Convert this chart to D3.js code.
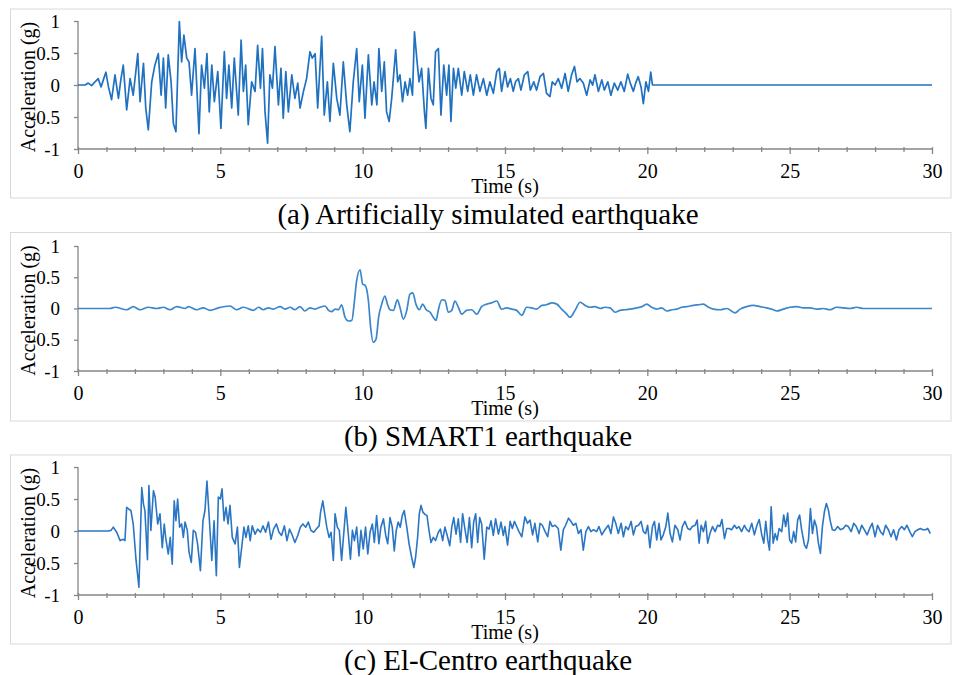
<!DOCTYPE html>
<html>
<head>
<meta charset="utf-8">
<script src="https://cdn.jsdelivr.net/npm/d3@7"></script>
<style>
  body { margin: 0; background: #fff; }
  text { font-family: "Liberation Serif", "Times New Roman", serif; fill: #000; }
</style>
</head>
<body>
<svg width="955" height="675"></svg>
<script>
// [time (s), acceleration (g)]
const simData = [[0,0],[0.25,0],[0.36,0.03],[0.48,-0.01],[0.60,0.05],[0.71,0.10],[0.81,-0.03],[0.89,0.08],[0.98,0.20],[1.07,-0.03],[1.18,-0.23],[1.30,0.16],[1.42,-0.21],[1.51,0.10],[1.59,0.31],[1.71,-0.39],[1.83,0.10],[1.94,-0.16],[2.10,0.49],[2.18,-0.26],[2.30,0.34],[2.38,-0.36],[2.47,-0.70],[2.59,0.05],[2.70,0.31],[2.82,0.49],[2.92,-0.16],[3.00,0.42],[3.08,-0.36],[3.17,0.47],[3.27,0.05],[3.35,-0.60],[3.44,-0.73],[3.56,0.99],[3.64,0.36],[3.72,0.78],[3.82,0.42],[3.90,0.36],[3.99,-0.16],[4.11,0.57],[4.25,-0.76],[4.34,0.31],[4.44,-0.05],[4.53,0.49],[4.61,-0.42],[4.70,0.31],[4.79,-0.26],[4.91,0.21],[5.02,-0.68],[5.14,0.52],[5.22,-0.21],[5.30,0.31],[5.40,-0.36],[5.49,0.42],[5.63,-0.47],[5.73,0.70],[5.81,-0.10],[5.89,0.31],[5.98,-0.62],[6.10,0.05],[6.22,-0.10],[6.31,0.62],[6.41,-0.05],[6.48,0.57],[6.57,-0.42],[6.66,-0.91],[6.74,0.16],[6.83,-0.05],[6.92,0.60],[7.04,-0.31],[7.13,0.26],[7.21,-0.52],[7.30,0.21],[7.39,-0.42],[7.51,0.16],[7.62,-0.21],[7.72,0.03],[7.80,-0.36],[7.92,-0.10],[8.03,0.10],[8.15,0.52],[8.23,0.42],[8.33,0.49],[8.42,-0.36],[8.56,0.76],[8.65,-0.47],[8.76,0.05],[8.85,-0.57],[8.97,0.34],[9.09,-0.21],[9.20,-0.47],[9.32,0.36],[9.44,-0.31],[9.55,-0.73],[9.67,0.05],[9.79,0.57],[9.88,-0.26],[9.99,0.31],[10.08,-0.52],[10.20,0.47],[10.32,-0.31],[10.40,0.05],[10.50,-0.31],[10.57,0.57],[10.67,-0.10],[10.76,0.36],[10.84,-0.42],[10.93,-0.57],[11.02,-0.21],[11.16,0.55],[11.23,0.05],[11.31,0.16],[11.40,-0.26],[11.49,0.05],[11.58,-0.16],[11.66,0.10],[11.75,-0.16],[11.82,0.83],[11.90,0.42],[11.98,0.05],[12.07,0.26],[12.17,-0.42],[12.22,-0.68],[12.31,0.26],[12.40,-0.21],[12.48,-0.31],[12.56,0.52],[12.66,0.57],[12.75,-0.47],[12.85,0.31],[12.95,-0.16],[13.03,0.31],[13.10,-0.57],[13.19,0.26],[13.27,-0.05],[13.36,0.26],[13.48,-0.16],[13.57,0.21],[13.69,-0.10],[13.78,0.16],[13.89,-0.16],[14.00,0.16],[14.12,-0.10],[14.24,0.10],[14.36,-0.16],[14.47,0.05],[14.59,-0.13],[14.71,0.21],[14.80,0.26],[14.88,-0.10],[15.00,0.21],[15.09,-0.03],[15.19,0.10],[15.29,-0.10],[15.37,0.05],[15.47,0.10],[15.56,-0.08],[15.68,0.16],[15.80,0.21],[15.89,-0.08],[16.01,0.05],[16.11,-0.08],[16.23,0.13],[16.35,0.18],[16.46,-0.13],[16.58,-0.18],[16.66,0.05],[16.76,0],[16.87,0.10],[16.99,-0.05],[17.11,0.18],[17.22,-0.10],[17.34,0.16],[17.44,0.29],[17.53,0.05],[17.63,0.10],[17.75,0.03],[17.87,-0.16],[17.99,0.08],[18.08,0],[18.16,0.16],[18.28,-0.10],[18.40,0.08],[18.49,-0.08],[18.61,0.05],[18.72,-0.16],[18.84,0.03],[18.96,-0.08],[19.07,0.05],[19.19,-0.10],[19.31,0.17],[19.40,0.03],[19.51,-0.10],[19.59,0.03],[19.68,0.13],[19.78,-0.03],[19.86,-0.29],[19.95,0.05],[20.04,-0.10],[20.12,0.20],[20.18,0],[30,0]];

const smartData = [[0,0],[1.12,0],[1.30,0.02],[1.71,-0.02],[1.94,0.03],[2.18,-0.02],[2.47,0.02],[2.76,0],[3.00,0.02],[3.23,-0.02],[3.47,0.03],[3.76,0],[3.88,0.03],[4.17,-0.02],[4.40,0.01],[4.64,-0.03],[4.93,0.01],[5.34,0.04],[5.57,-0.02],[5.81,0.02],[6.16,-0.03],[6.34,0.02],[6.51,-0.02],[6.69,0.01],[6.86,-0.01],[7.10,0.03],[7.27,-0.01],[7.45,0.02],[7.62,-0.02],[7.80,0.03],[7.97,-0.04],[8.15,0.01],[8.33,-0.01],[8.50,0.02],[8.68,0.04],[8.80,-0.03],[8.91,-0.05],[9.03,-0.01],[9.15,-0.02],[9.26,0.06],[9.38,-0.14],[9.50,-0.20],[9.62,-0.19],[9.70,0.07],[9.79,0.45],[9.91,0.62],[10.00,0.39],[10.09,0.37],[10.20,0.13],[10.28,-0.30],[10.37,-0.54],[10.47,-0.49],[10.56,-0.14],[10.67,0.07],[10.78,0.20],[10.87,0.07],[10.96,-0.02],[11.08,-0.03],[11.22,0.14],[11.31,0.02],[11.43,-0.17],[11.55,-0.03],[11.66,0.23],[11.76,0.25],[11.87,0.07],[11.99,-0.02],[12.11,0.07],[12.23,-0.02],[12.37,-0.06],[12.48,-0.14],[12.58,-0.19],[12.66,-0.02],[12.78,0.14],[12.89,0.13],[13.01,-0.06],[13.13,-0.03],[13.24,0.12],[13.36,0.02],[13.48,-0.09],[13.65,-0.03],[13.83,-0.02],[14.01,-0.09],[14.18,0.03],[14.36,0.07],[14.53,0.09],[14.71,0.12],[14.88,-0.01],[15.06,0.01],[15.24,-0.01],[15.41,-0.03],[15.59,-0.11],[15.76,0.02],[15.94,0.01],[16.11,-0.01],[16.29,0.05],[16.46,0.06],[16.64,0.09],[16.82,0.07],[16.99,-0.01],[17.17,-0.09],[17.28,-0.14],[17.46,-0.03],[17.64,0.10],[17.81,0.05],[17.99,0.02],[18.16,0.03],[18.34,0],[18.51,0.02],[18.69,0.01],[18.87,-0.06],[19.04,-0.03],[19.22,-0.02],[19.39,-0.01],[19.63,0.01],[19.81,0.03],[19.98,0.07],[20.15,0.02],[20.33,-0.01],[20.50,0.01],[20.68,-0.04],[20.86,-0.02],[21.03,-0.01],[21.21,0.02],[21.38,0.03],[21.62,0.05],[21.79,0.06],[21.97,0.07],[22.15,0.02],[22.32,-0.01],[22.56,-0.02],[22.79,0],[23.08,-0.07],[23.26,-0.01],[23.49,0.03],[23.72,0.05],[23.96,0.03],[24.19,0.01],[24.43,-0.02],[24.54,-0.04],[24.78,-0.01],[25.01,0.02],[25.25,0.03],[25.48,0.01],[25.72,0.01],[25.95,-0.01],[26.18,0],[26.42,-0.02],[26.65,0.02],[26.89,0.01],[27.12,0],[27.35,0.02],[27.59,0],[27.82,0],[30,0]];

const elcData = [[0,0],[1.07,0],[1.16,0.01],[1.24,0.06],[1.36,-0.02],[1.48,-0.15],[1.59,-0.13],[1.65,-0.15],[1.71,0.37],[1.79,0.34],[1.86,0.32],[1.94,0.11],[2.04,-0.46],[2.14,-0.88],[2.24,0.68],[2.30,0.42],[2.35,0.32],[2.44,-0.45],[2.49,0.71],[2.56,0.01],[2.65,0.63],[2.71,0.53],[2.80,0.11],[2.88,0.27],[2.96,-0.26],[3.03,0.11],[3.08,-0.10],[3.17,-0.36],[3.24,-0.10],[3.31,-0.52],[3.38,0.47],[3.44,0.16],[3.50,0.50],[3.57,0.06],[3.64,0.11],[3.70,-0.10],[3.76,0.14],[3.84,0.01],[3.90,-0.33],[3.98,-0.49],[4.05,0.01],[4.13,-0.02],[4.20,-0.20],[4.30,-0.62],[4.39,0.16],[4.46,0.32],[4.53,0.78],[4.61,0.21],[4.70,-0.46],[4.78,0.16],[4.86,-0.70],[4.93,0.53],[5.00,0.50],[5.06,0.66],[5.13,0.16],[5.20,0.37],[5.27,0.11],[5.34,0.40],[5.42,-0.10],[5.52,-0.20],[5.60,0.06],[5.67,-0.57],[5.75,-0.26],[5.83,0.06],[5.90,-0.10],[5.98,0.08],[6.05,-0.15],[6.12,0.08],[6.22,-0.05],[6.31,0.03],[6.41,-0.02],[6.50,0.08],[6.59,-0.02],[6.69,0.14],[6.78,-0.13],[6.87,0.03],[6.97,0.11],[7.06,-0.02],[7.15,-0.07],[7.25,0.08],[7.34,-0.15],[7.43,0.03],[7.53,-0.07],[7.62,-0.18],[7.72,-0.07],[7.81,0.06],[7.90,0.11],[8.00,0.06],[8.09,0.14],[8.18,0.01],[8.28,-0.02],[8.37,0.03],[8.47,0.08],[8.52,0.29],[8.60,0.47],[8.65,0.32],[8.74,0.06],[8.82,-0.10],[8.89,-0.02],[8.97,-0.46],[9.03,0.27],[9.11,0.06],[9.18,0.01],[9.26,-0.46],[9.33,-0.07],[9.41,0.37],[9.50,-0.07],[9.57,-0.44],[9.64,0.01],[9.71,-0.15],[9.79,0.06],[9.87,-0.39],[9.94,0.01],[10.02,-0.28],[10.10,0.06],[10.18,-0.36],[10.26,-0.02],[10.34,0.11],[10.41,-0.18],[10.49,0.24],[10.57,-0.20],[10.64,0.06],[10.73,0.19],[10.81,-0.07],[10.88,-0.20],[10.96,0.21],[11.04,0.06],[11.11,-0.31],[11.18,0.01],[11.25,0.14],[11.32,0.06],[11.39,0.24],[11.46,0.32],[11.55,0.06],[11.63,-0.20],[11.72,-0.41],[11.80,-0.57],[11.86,-0.41],[11.93,-0.10],[11.99,0.27],[12.05,0.40],[12.12,0.29],[12.19,0.26],[12.26,0.24],[12.33,0.01],[12.40,-0.18],[12.48,-0.10],[12.56,-0.15],[12.66,-0.02],[12.73,0.03],[12.81,-0.15],[12.89,0.06],[12.97,-0.07],[13.06,-0.23],[13.13,0.06],[13.20,0.21],[13.28,-0.05],[13.36,0.19],[13.44,-0.18],[13.51,0.27],[13.60,0.01],[13.67,-0.18],[13.75,0.21],[13.83,-0.26],[13.90,0.14],[13.97,0.27],[14.04,-0.18],[14.11,0.21],[14.18,0.11],[14.27,-0.44],[14.36,0.06],[14.44,0.03],[14.51,0.16],[14.59,-0.07],[14.67,0.19],[14.77,-0.05],[14.86,0.14],[14.94,-0.07],[15.00,0.07],[15.09,-0.22],[15.18,0.15],[15.26,0.04],[15.33,0.15],[15.41,0.07],[15.49,-0.01],[15.59,-0.09],[15.70,0.22],[15.79,0.12],[15.88,0.17],[15.97,-0.06],[16.05,0.12],[16.15,-0.17],[16.23,0.12],[16.31,0.09],[16.41,-0.01],[16.50,-0.09],[16.58,0.15],[16.66,0.07],[16.76,0.09],[16.87,0.04],[16.96,-0.30],[17.05,0.02],[17.13,0.09],[17.23,0.20],[17.32,0.15],[17.40,0.09],[17.49,0.12],[17.58,-0.04],[17.67,0.02],[17.75,-0.30],[17.84,-0.01],[17.93,0.07],[18.02,-0.01],[18.11,0.02],[18.22,-0.01],[18.30,0.07],[18.40,-0.06],[18.51,0.02],[18.63,0.09],[18.72,-0.04],[18.81,0.22],[18.89,0.12],[18.98,-0.04],[19.08,0.12],[19.16,-0.09],[19.24,0.07],[19.33,0.02],[19.43,0.15],[19.51,-0.06],[19.59,0.07],[19.69,0.09],[19.78,0.15],[19.86,-0.01],[19.94,-0.04],[20.01,0.09],[20.09,-0.26],[20.18,0.07],[20.25,0.15],[20.33,-0.14],[20.41,0.12],[20.48,-0.14],[20.56,-0.06],[20.65,0.07],[20.72,0.28],[20.80,-0.04],[20.88,-0.17],[20.97,0.09],[21.07,0.02],[21.15,-0.14],[21.23,0.07],[21.32,0.15],[21.42,0.04],[21.50,0.02],[21.58,0.07],[21.68,0.09],[21.75,0.17],[21.82,-0.19],[21.89,0.09],[21.97,-0.01],[22.05,0.15],[22.12,-0.19],[22.20,-0.04],[22.29,0.07],[22.38,-0.01],[22.47,0.09],[22.55,0.07],[22.62,0.18],[22.71,-0.12],[22.79,0.04],[22.87,0.04],[22.96,0.02],[23.06,0.09],[23.14,0.04],[23.22,0.07],[23.31,-0.01],[23.41,0.09],[23.49,0.02],[23.57,-0.01],[23.67,0.12],[23.76,-0.06],[23.85,0.09],[23.93,0.18],[24.02,-0.06],[24.09,-0.19],[24.16,0.15],[24.23,-0.14],[24.29,-0.30],[24.35,0.38],[24.42,-0.19],[24.49,-0.04],[24.56,-0.14],[24.63,0.04],[24.72,-0.01],[24.79,0.25],[24.86,0.07],[24.93,0.28],[25.00,-0.14],[25.07,-0.19],[25.14,-0.01],[25.21,-0.17],[25.28,0.17],[25.35,0.25],[25.42,0.02],[25.52,-0.22],[25.59,-0.27],[25.66,-0.14],[25.73,0.35],[25.80,-0.04],[25.87,0.17],[25.94,0.07],[26.01,-0.19],[26.08,-0.35],[26.15,0.07],[26.22,0.30],[26.29,0.43],[26.36,0.33],[26.43,0.15],[26.50,0.02],[26.59,0.01],[26.69,0.07],[26.78,0.02],[26.88,0.04],[26.97,0.09],[27.06,0.07],[27.16,-0.01],[27.25,0.12],[27.34,0.07],[27.44,-0.04],[27.53,0.09],[27.62,0.02],[27.72,-0.06],[27.81,0.04],[27.90,0.12],[28.00,-0.09],[28.09,0.09],[28.19,-0.01],[28.28,-0.06],[28.37,0.09],[28.47,0.02],[28.56,-0.09],[28.65,0.02],[28.75,-0.14],[28.84,0.02],[28.94,0.07],[29.03,0.02],[29.12,0.09],[29.22,-0.01],[29.31,-0.09],[29.40,-0.01],[29.50,0.02],[29.59,0.04],[29.68,0.02],[29.78,0.02],[29.85,0.04],[29.94,-0.04]];

const xTicks = d3.range(0, 31, 1);
const xLabels = [0, 5, 10, 15, 20, 25, 30];
const yTicks = [-1, -0.5, 0, 0.5, 1];
const captions = ['(a) Artificially simulated earthquake', '(b) SMART1 earthquake', '(c) El-Centro earthquake'];
const series = [simData, smartData, elcData];

const svg = d3.select('svg');
svg.append('rect').attr('width', 955).attr('height', 675).attr('fill', '#fff');

const left = 78, right = 932;
const panels = [
    { top: 21, bottom: 149, boxTop: 9, boxBottom: 198, color: '#2071c0', lw: 1.7, curve: d3.curveLinear },
    { top: 246, bottom: 371, boxTop: 232.5, boxBottom: 421, color: '#3a87cc', lw: 1.7, curve: d3.curveMonotoneX },
    { top: 467, bottom: 595, boxTop: 455, boxBottom: 644, color: '#2a76c4', lw: 1.6, curve: d3.curveLinear }
];

panels.forEach((p, i) => {
    const x = d3.scaleLinear().domain([0, 30]).range([left, right]);
    const y = d3.scaleLinear().domain([-1, 1]).range([p.bottom, p.top]);

    svg.append('rect')
        .attr('x', 10.5).attr('y', p.boxTop)
        .attr('width', 940.5).attr('height', p.boxBottom - p.boxTop)
        .attr('fill', 'none').attr('stroke', '#d9d9d9');

    const g = svg.append('g');

    // y axis
    const yAxisG = g.append('g')
        .attr('transform', `translate(${left},0)`)
        .call(d3.axisLeft(y).tickValues(yTicks).tickFormat(d => String(d)).tickSize(4).tickPadding(14));
    yAxisG.selectAll('path, line').attr('stroke', '#868686').attr('stroke-width', 1.3);
    yAxisG.select('.domain').attr('d', `M0,${p.top}V${p.bottom}`);
    yAxisG.selectAll('text').style('font-size', '19px').attr('fill', '#000');

    // x axis
    const xAxisG = g.append('g')
        .attr('transform', `translate(0,${p.bottom})`)
        .call(d3.axisBottom(x).tickValues(xTicks)
            .tickFormat(d => xLabels.includes(d) ? d : '')
            .tickSize(4).tickPadding(11));
    xAxisG.selectAll('path, line').attr('stroke', '#868686').attr('stroke-width', 1.3);
    xAxisG.select('.domain').attr('d', `M${left},0H${right}`);
    xAxisG.selectAll('.tick line')
        .attr('y1', -2)
        .attr('y2', d => d % 5 === 0 ? 5 : 3);
    xAxisG.selectAll('text').style('font-size', '20px').attr('fill', '#000');

    // axis titles
    g.append('text')
        .attr('transform', `translate(35,${(p.top + p.bottom) / 2 + 2}) rotate(-90)`)
        .attr('text-anchor', 'middle')
        .style('font-size', '20px')
        .text('Acceleration (g)');

    g.append('text')
        .attr('x', 505).attr('y', p.bottom + 44)
        .attr('text-anchor', 'middle')
        .style('font-size', '20px')
        .text('Time (s)');

    // the record
    const line = d3.line()
        .curve(p.curve)
        .x(d => x(d[0]))
        .y(d => y(d[1]));

    g.append('path')
        .datum(series[i])
        .attr('d', line)
        .attr('fill', 'none')
        .attr('stroke', p.color)
        .attr('stroke-width', p.lw)
        .attr('stroke-linejoin', 'round');

    // caption
    svg.append('text')
        .attr('x', 488).attr('y', p.bottom + 75)
        .attr('text-anchor', 'middle')
        .style('font-size', '29px')
        .text(captions[i]);
});
</script>
</body>
</html>
